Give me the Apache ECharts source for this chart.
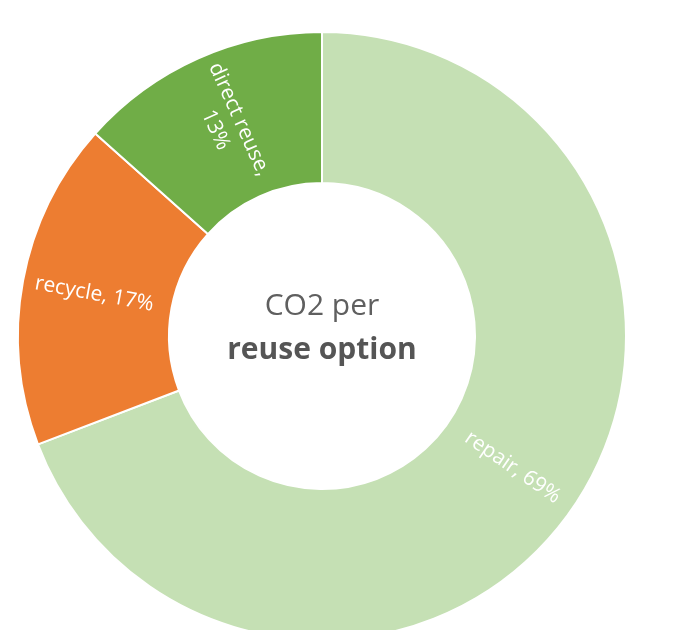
<!DOCTYPE html>
<html>
<head>
<meta charset="utf-8">
<script src="https://cdn.jsdelivr.net/npm/echarts@6/dist/echarts.min.js"></script>
<style>
html,body{margin:0;padding:0;background:#fff;}
#chart{width:694px;height:630px;}
</style>
</head>
<body>
<div id="chart"></div>
<script>
const categories = ['repair', 'recycle', 'direct reuse'];
const values = [69.2, 17.4, 13.4];
const labelPercents = ['69%', '17%', '13%'];
const labelBreaks = ['', '', '\n'];
const colors = ['#C5E0B4', '#ED7D31', '#70AD47'];
const centerLine1 = 'CO2 per';
const centerLine2 = 'reuse option';

const chart = echarts.init(document.getElementById('chart'), null, {renderer: 'canvas'});
const data = categories.map((c, i) => ({
  name: c,
  value: values[i],
  itemStyle: {color: colors[i]},
  label: {formatter: c + ',' + (labelBreaks[i] || ' ') + labelPercents[i]}
}));
chart.setOption({
  backgroundColor: '#ffffff',
  animation: false,
  series: [{
    type: 'pie',
    center: [322, 336],
    radius: [153, 304],
    startAngle: 90,
    clockwise: true,
    avoidLabelOverlap: false,
    itemStyle: {borderColor: '#ffffff', borderWidth: 2},
    label: {
      show: true,
      position: 'inside',
      rotate: 'radial',
      color: '#ffffff',
      fontFamily: 'Open Sans',
      fontSize: 21,
      lineHeight: 26
    },
    labelLine: {show: false},
    emphasis: {disabled: true},
    data: data
  }],
  graphic: [{
    type: 'text',
    x: 322,
    y: 328,
    style: {
      text: '{a|' + centerLine1 + '}\n{b|' + centerLine2 + '}',
      align: 'center',
      verticalAlign: 'middle',
      fill: '#595959',
      rich: {
        a: {fontFamily: 'Open Sans', fontSize: 30, fill: '#5f5f5f', color: '#5f5f5f', lineHeight: 44, align: 'center'},
        b: {fontFamily: 'Open Sans', fontSize: 30, fontWeight: 'bold', fill: '#555555', color: '#555555', lineHeight: 44, align: 'center'}
      }
    }
  }]
});
</script>
</body>
</html>
